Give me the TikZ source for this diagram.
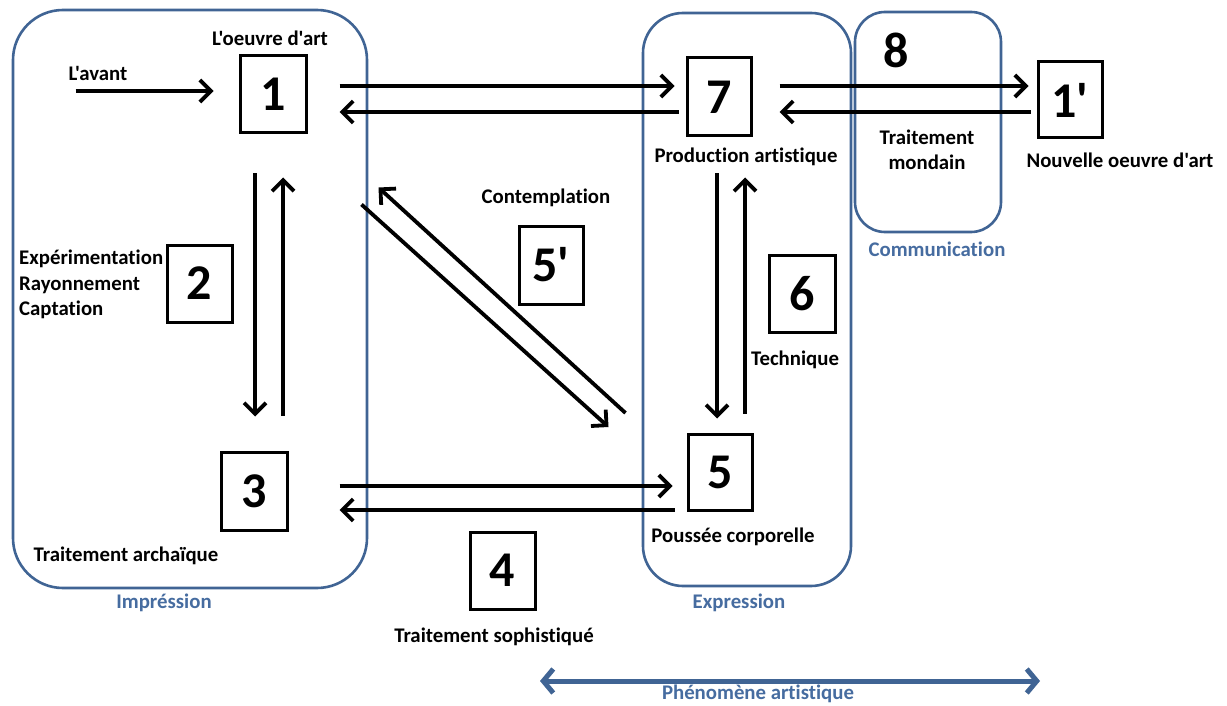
\documentclass[tikz,border=0pt]{standalone}
\usepackage{fontspec}
\setmainfont{Carlito}[Ligatures={TeXOff,NoCommon}]
\usetikzlibrary{arrows.meta,calc}
\definecolor{frameblue}{RGB}{64,100,148}
\definecolor{labelblue}{RGB}{70,108,160}
\begin{document}
\begin{tikzpicture}[x=1pt,y=-1pt,
  numbox/.style={draw=black,line width=3pt,inner sep=0pt,
    font=\bfseries\fontsize{50}{50}\selectfont},
  txt/.style={font=\bfseries\fontsize{20.8}{25}\selectfont,inner sep=0pt},
  grouplabel/.style={txt,text=labelblue},
  group/.style={draw=frameblue,line width=2.6pt},
  arr/.style={line width=3.8pt,-{Straight Barb[length=11pt,width=22pt,line width=3.8pt]}},
  bigarr/.style={draw=frameblue,line width=5pt,{Straight Barb[length=10pt,width=24pt]}-{Straight Barb[length=10pt,width=24pt]}}]
\useasboundingbox (0,0) rectangle (1227,706);
\fill[white] (0,0) rectangle (1227,706);

% group frames
\draw[group,rounded corners=50pt] (13,10) rectangle (367,588);
\draw[group,rounded corners=40pt] (643,13) rectangle (851,586);
\draw[group,rounded corners=30pt] (855,12) rectangle (1001,232);
\node[grouplabel] (gImp) at (164,603) {Impréssion};
\node[grouplabel] (gExp) at (739,603) {Expression};
\node[grouplabel] (gCom) at (937,249) {Communication};

% numbered steps
\node[numbox,minimum width=66pt,minimum height=77pt] (b1) at (273,94.5) {1};
\node[numbox,minimum width=64pt,minimum height=78pt] (b7) at (719,97) {7};
\node[numbox,minimum width=64pt,minimum height=76pt] (b1p) at (1070,100) {1'};
\node[numbox,minimum width=65pt,minimum height=77pt] (b2) at (199.5,283.5) {2};
\node[numbox,minimum width=66pt,minimum height=78pt] (b3) at (254,491) {3};
\node[numbox,minimum width=64pt,minimum height=76pt] (b5) at (720,472) {5};
\node[numbox,minimum width=65pt,minimum height=77pt] (b4) at (502.5,570.5) {4};
\node[numbox,minimum width=64pt,minimum height=78pt] (b5p) at (551,265) {5'};
\node[numbox,minimum width=66pt,minimum height=77pt] (b6) at (802,293.5) {6};
\node[font=\bfseries\fontsize{50}{50}\selectfont,inner sep=0pt] (n8) at (896,50) {8};

% texts
\node[txt] (tOeuvre) at (270,38) {L'oeuvre d'art};
\node[txt] (tAvant) at (98,73) {L'avant};
\node[txt] (tProd) at (746,157) {Production artistique};
\node[txt,align=center] (tMondain) at (927,150) {Traitement\\mondain};
\node[txt] (tNouv) at (1120,160) {Nouvelle oeuvre d'art};
\node[txt,align=left,anchor=west,font=\bfseries\fontsize{20.8}{25.5}\selectfont] (tExp) at (19,284.5) {Expérimentation\\Rayonnement\\Captation};
\node[txt] (tCont) at (546,198) {Contemplation};
\node[txt] (tTech) at (795,360) {Technique};
\node[txt] (tArch) at (126,556) {Traitement archaïque};
\node[txt] (tPous) at (733,537) {Poussée corporelle};
\node[txt] (tSoph) at (494,637) {Traitement sophistiqué};

% connectors
\coordinate (avant) at ($(b1.west)+(-163,-3.5)$);
\draw[arr] (avant) -- ($(b1.west)+(-25,-3.5)$);
\draw[arr] ($(b1.east)+(32,-8.5)$) -- ($(b7.west)+(-11,-11)$);
\draw[arr] ($(b7.west)+(-7,15)$) -- ($(b1.east)+(32,17.5)$);
\draw[arr] ($(b7.east)+(27,-11)$) -- ($(b1p.west)+(-8,-14)$);
\draw[arr] ($(b1p.west)+(-6,12)$) -- ($(b7.east)+(27,15)$);
\draw[arr] ($(b1.south)+(-18,39)$) -- ($(b3.north)+(1,-34)$);
\draw[arr] ($(b3.north)+(29,-35)$) -- ($(b1.south)+(10,43)$);
\draw[arr] ($(b3.east)+(51,-5)$) -- ($(b5.west)+(-14,14)$);
\draw[arr] ($(b5.west)+(-12,38)$) -- ($(b3.east)+(51,19)$);
\draw[arr] ($(b7.south)+(-2,36)$) -- ($(b5.north)+(-3,-14)$);
\draw[arr] ($(b5.north)+(25,-19)$) -- ($(b7.south)+(26,40)$);
\draw[arr] ($(b1.south east)+(54,70)$) -- ($(b5.west)+(-78,-45)$);
\draw[arr] ($(b5.west)+(-61,-59)$) -- ($(b1.south east)+(71,53)$);

% overall span
\coordinate (phL) at (540,681);
\coordinate (phR) at (1040,681);
\draw[bigarr] (phL) -- (phR);
\node[grouplabel] (gPhen) at (758,694) {Phénomène artistique};
\end{tikzpicture}
\end{document}
